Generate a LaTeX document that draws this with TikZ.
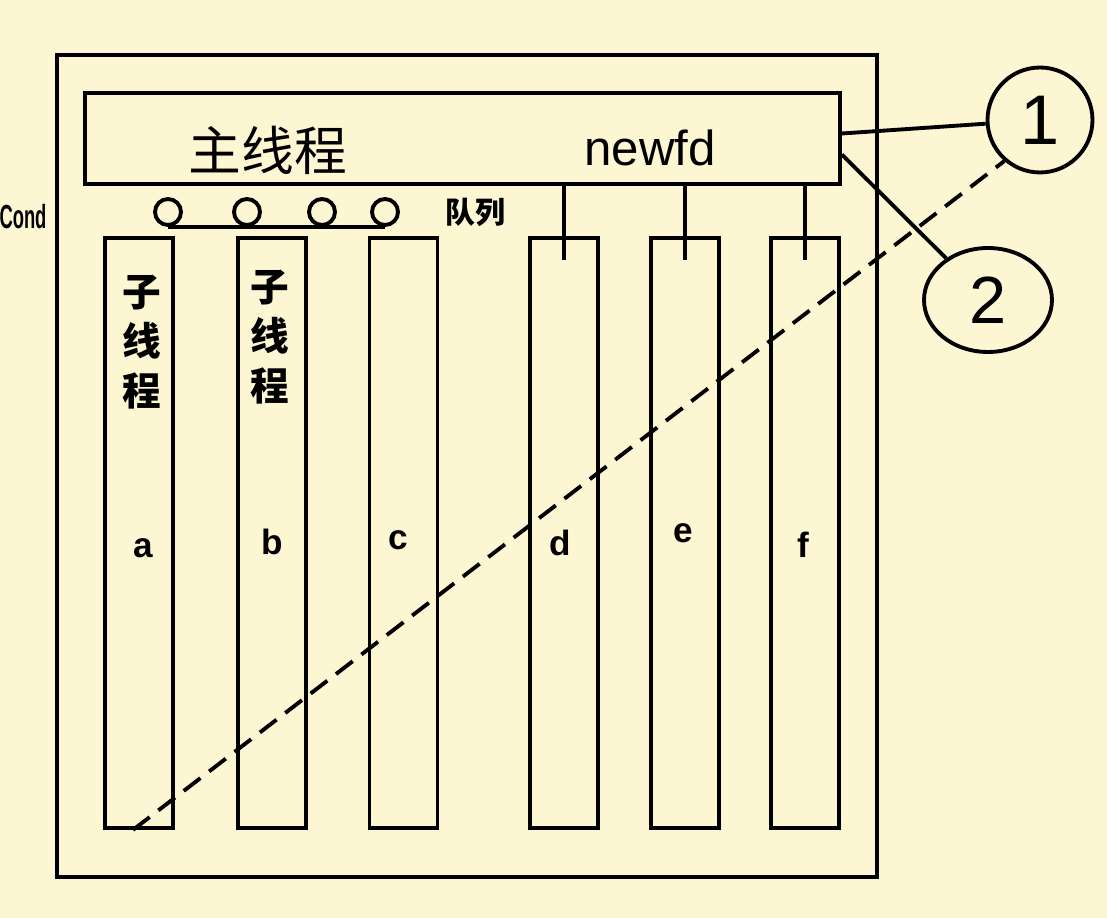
\documentclass[tikz,border=0pt]{standalone}
\usepackage{fontspec}
\setmainfont{Liberation Sans}
\newfontfamily\cjk{Noto Sans CJK SC}
\usetikzlibrary{shapes.geometric}
\definecolor{paper}{RGB}{252,246,210}

\begin{document}
\begin{tikzpicture}[x=0.02cm, y=-0.02cm, line width=2.2pt,
    column/.style={draw, rectangle, inner sep=0pt, minimum width=1.36cm, minimum height=11.8cm},
    slot/.style={draw, circle, inner sep=0pt, minimum size=0.52cm},
    letter/.style={font=\bfseries\fontsize{20}{20}\selectfont},
    hanzi/.style={font=\cjk\bfseries\fontsize{22}{28}\selectfont, align=center}]
    \fill[paper] (0,0) rectangle (1107,918);
    \useasboundingbox (0,0) rectangle (1107,918);

    % outer frame and main thread
    \node[draw, rectangle, inner sep=0pt, minimum width=16.4cm, minimum height=16.44cm] (frame) at (467,466) {};
    \node[draw, rectangle, inner sep=0pt, minimum width=15.1cm, minimum height=1.82cm] (main) at (462.5,138.5) {};
    \node[font=\cjk\fontsize{30}{30}\selectfont] (mainlabel) at (268,150) {主线程};
    \node[font=\fontsize{28}{28}\selectfont] (newfd) at (650,148) {newfd};
    \node[font=\bfseries\fontsize{19}{19}\selectfont, xscale=0.55] (cond) at (23,217) {Cond};

    % queue
    \node[slot] (q1) at (168,212) {};
    \node[slot] (q2) at (247,212) {};
    \node[slot] (q3) at (322,212) {};
    \node[slot] (q4) at (385,212) {};
    \draw (q1.south) -- (q4.south);
    \node[font=\cjk\bfseries\fontsize{17}{17}\selectfont] (queue) at (475,212) {队列};

    % worker threads
    \foreach \name/\x in {a/139, b/272, c/403.5, d/564, e/685, f/805} {
        \node[column] (\name) at (\x,533) {};
    }
    \node[letter] (la) at (143,548) {a};
    \node[letter] (lb) at (272,542) {b};
    \node[letter] (lc) at (398,540) {c};
    \node[letter] (ld) at (560,543) {d};
    \node[letter] (le) at (683,533) {e};
    \node[letter] (lf) at (803,545) {f};
    \node[hanzi] (ta) at (142,342) {子\\线\\程};
    \node[hanzi] (tb) at (270,337) {子\\线\\程};

    \foreach \name in {d, e, f} {
        \draw (main.south -| \name.north) -- ([yshift=-0.48cm]\name.north);
    }

    % circles
    \node[draw, circle, inner sep=0pt, minimum size=2.1cm, font=\fontsize{40}{40}\selectfont] (c1) at (1040,120) {1};
    \node[draw, ellipse, inner sep=0pt, minimum width=2.56cm, minimum height=2.08cm, font=\fontsize{38}{38}\selectfont] (c2) at (988,300) {2};
    \draw ([yshift=0.1cm]main.east) -- (c1);
    \draw ([yshift=-0.32cm]main.east) -- (c2);

    \coordinate (aend) at ([xshift=-0.12cm]a.south);
    \draw[dash pattern=on 0.42cm off 0.22cm] (aend) -- (c1.229);
\end{tikzpicture}
\end{document}
